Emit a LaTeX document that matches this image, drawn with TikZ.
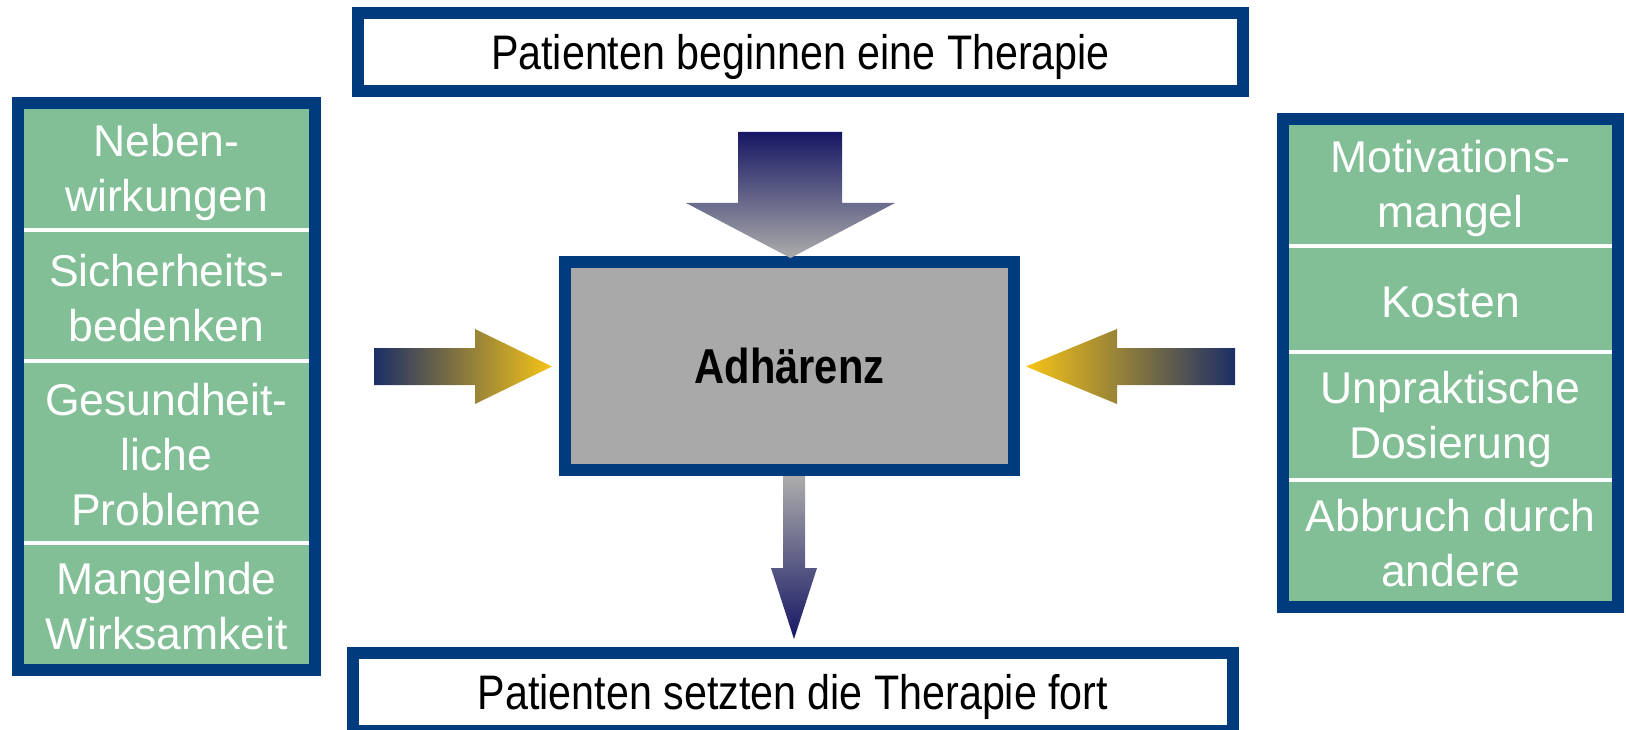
\documentclass[tikz,border=0pt]{standalone}
\usepackage{fontspec}
\setmainfont{Liberation Sans}
\newfontfamily\narrowfont[FakeStretch=0.85]{Liberation Sans}
\definecolor{bordblue}{RGB}{0,59,126}
\definecolor{boxgreen}{RGB}{130,191,150}
\definecolor{boxgray}{RGB}{169,169,169}
\definecolor{navy}{RGB}{22,22,100}
\definecolor{navyb}{RGB}{28,46,102}
\definecolor{gold}{RGB}{246,196,22}
\definecolor{tan}{RGB}{185,152,85}
\definecolor{lgray}{RGB}{172,172,172}
\tikzset{
  framebox/.style={draw=bordblue, line width=12pt, inner sep=0pt, outer sep=0pt},
  titletext/.style={font=\narrowfont\fontsize{48.5}{55}\selectfont, text height=34.5pt, text depth=0pt},
  centertext/.style={font=\narrowfont\bfseries\fontsize{49}{55}\selectfont, text height=35pt, text depth=0pt},
  greentext/.style={text=white, align=center, inner sep=0pt, font=\fontsize{44.5}{55}\selectfont},
  divider/.style={draw=white, line width=4pt},
}
\begin{document}
\begin{tikzpicture}[x=1pt,y=-1pt]
\useasboundingbox (0,0) rectangle (1626,730);

% top and bottom boxes
\node[framebox, fill=white, minimum width=885pt, minimum height=78pt, titletext] (start) at (800.5,52) {Patienten beginnen eine Therapie};
\node[framebox, fill=white, minimum width=880pt, minimum height=78pt, titletext] (cont) at (793,692) {Patienten setzten die Therapie fort};

% center box
\node[framebox, fill=boxgray, minimum width=449pt, minimum height=208pt, centertext] (adh) at (789.5,366) {Adhärenz};

% left box
\node[framebox, fill=boxgreen, minimum width=297pt, minimum height=567pt] (left) at (166.5,386.5) {};
\draw[divider] (24,230) -- (309,230);
\draw[divider] (24,361) -- (309,361);
\draw[divider] (24,543) -- (309,543);
\node[greentext] (l1) at (166.5,172.5) {Neben-\\wirkungen};
\node[greentext] (l2) at (166.5,298.5) {Sicherheits-\\bedenken};
\node[greentext] (l3) at (166.5,455) {Gesundheit-\\liche\\Probleme};
\node[greentext] (l4) at (166.5,606.5) {Mangelnde\\Wirksamkeit};

% right box
\node[framebox, fill=boxgreen, minimum width=335pt, minimum height=488pt] (right) at (1450.5,363) {};
\draw[divider] (1289,246) -- (1612,246);
\draw[divider] (1289,352) -- (1612,352);
\draw[divider] (1289,480) -- (1612,480);
\node[greentext] (r1) at (1450.5,188.5) {Motivations-\\mangel};
\node[greentext] (r2) at (1450.5,302) {Kosten};
\node[greentext] (r3) at (1450.5,419) {Unpraktische\\Dosierung};
\node[greentext] (r4) at (1450.5,543.5) {Abbruch durch\\andere};

% block arrows
\shade[top color=navy, bottom color=lgray] (738,132) -- (842,132) -- (842,203) -- (895,203) -- (790.5,258) -- (686,203) -- (738,203) -- cycle;
\shade[left color=navyb, middle color=tan, right color=gold] (374,348) -- (475,348) -- (475,329) -- (552,366.5) -- (475,404) -- (475,385) -- (374,385) -- cycle;
\shade[left color=gold, middle color=tan, right color=navyb] (1235,348) -- (1117,348) -- (1117,329) -- (1026,366.5) -- (1117,404) -- (1117,385) -- (1235,385) -- cycle;
\shade[top color=lgray, bottom color=navy] (783,476) -- (805,476) -- (805,568) -- (817,568) -- (794,639) -- (771,568) -- (783,568) -- cycle;
\end{tikzpicture}
\end{document}
